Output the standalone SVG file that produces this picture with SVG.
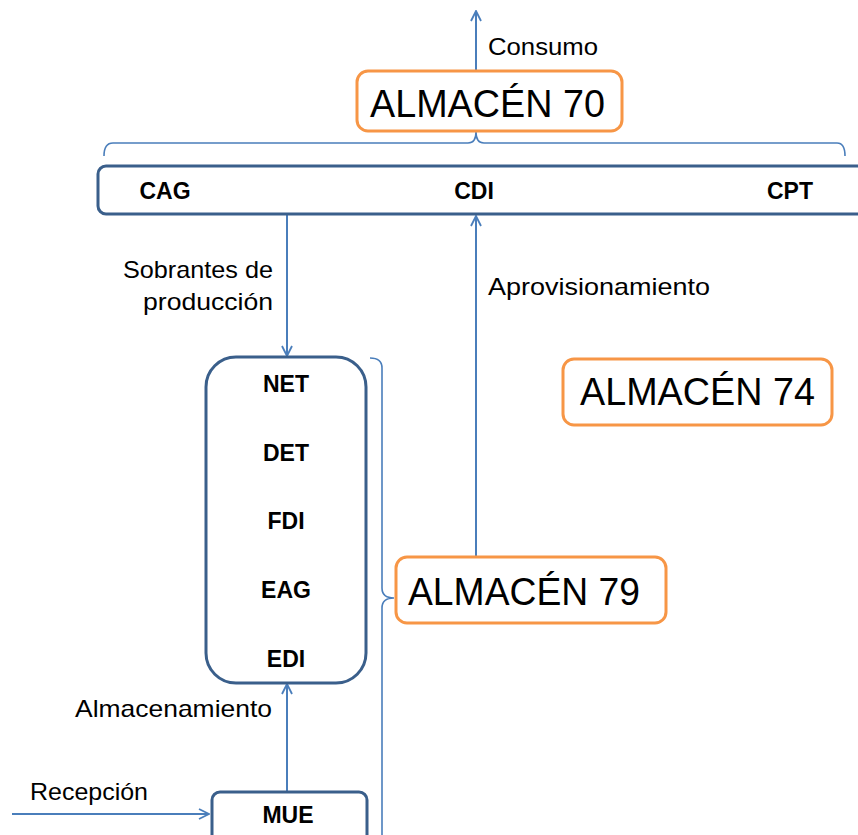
<svg xmlns="http://www.w3.org/2000/svg" width="858" height="835" viewBox="0 0 858 835">
<defs>
<marker id="arr" viewBox="0 0 12 12" refX="11" refY="6" markerWidth="12" markerHeight="12" markerUnits="userSpaceOnUse" orient="auto">
<path d="M1,1 L11,6 L1,11" fill="none" stroke="#4A7EBB" stroke-width="1.8"/>
</marker>
<style>
.node{fill:#fff;stroke:#3A5F8B;stroke-width:3}
.alm{fill:#fff;stroke:#F79646;stroke-width:3}
.con{fill:none;stroke:#4A7EBB;stroke-width:2}
.br{fill:none;stroke:#4A7EBB;stroke-width:1.6}
.big{font-family:"Liberation Sans",Arial,sans-serif;font-size:38px;fill:#000}
.lbl{font-family:"Liberation Sans",Arial,sans-serif;font-size:24px;fill:#000}
.b{font-family:"Liberation Sans",Arial,sans-serif;font-size:23px;font-weight:bold;fill:#000;text-anchor:middle}
</style>
</defs>
<g id="connectors">
<line class="con" x1="476" y1="131" x2="476" y2="11" marker-end="url(#arr)"/>
<line class="con" x1="287" y1="214" x2="287" y2="356" marker-end="url(#arr)"/>
<line class="con" x1="476" y1="557" x2="476" y2="216" marker-end="url(#arr)"/>
<line class="con" x1="287" y1="792" x2="287" y2="684" marker-end="url(#arr)"/>
<line class="con" x1="12" y1="814" x2="209" y2="814" marker-end="url(#arr)"/>
<path class="br" d="M104,156 Q104,143 113,143 L468,143 Q476,143 476,132 Q476,143 484,143 L837,143 Q845,143 845,156"/>
<path class="br" d="M370,358 Q382,358 382,368 L382,588 Q382,598 394,598 Q382,598 382,608 L382,840"/>
</g>
<g id="labels">
<text class="lbl" x="488" y="55" textLength="110" lengthAdjust="spacingAndGlyphs">Consumo</text>
<text class="lbl" x="123" y="278" textLength="150" lengthAdjust="spacingAndGlyphs">Sobrantes de</text>
<text class="lbl" x="143" y="310" textLength="130" lengthAdjust="spacingAndGlyphs">producción</text>
<text class="lbl" x="488" y="295" textLength="222" lengthAdjust="spacingAndGlyphs">Aprovisionamiento</text>
<text class="lbl" x="75" y="717" textLength="197" lengthAdjust="spacingAndGlyphs">Almacenamiento</text>
<text class="lbl" x="30" y="800" textLength="118" lengthAdjust="spacingAndGlyphs">Recepción</text>
</g>
<g id="almacen70">
<rect class="alm" x="357" y="71" width="265" height="60" rx="11"/>
<text class="big" x="370" y="117" textLength="235" lengthAdjust="spacingAndGlyphs">ALMACÉN 70</text>
</g>
<g id="centros">
<rect class="node" x="98" y="166" width="800" height="48" rx="8"/>
<text class="b" x="165" y="199">CAG</text>
<text class="b" x="474" y="199">CDI</text>
<text class="b" x="790" y="199">CPT</text>
</g>
<g id="almacen74">
<rect class="alm" x="563" y="359" width="269" height="66" rx="11"/>
<text class="big" x="580" y="405" textLength="235" lengthAdjust="spacingAndGlyphs">ALMACÉN 74</text>
</g>
<g id="estaciones">
<rect class="node" x="206" y="357" width="160" height="326" rx="30"/>
<text class="b" x="286" y="392">NET</text>
<text class="b" x="286" y="461">DET</text>
<text class="b" x="286" y="529">FDI</text>
<text class="b" x="286" y="598">EAG</text>
<text class="b" x="286" y="667">EDI</text>
</g>
<g id="almacen79">
<rect class="alm" x="396" y="557" width="270" height="66" rx="11"/>
<text class="big" x="408" y="605" textLength="232" lengthAdjust="spacingAndGlyphs">ALMACÉN 79</text>
</g>
<g id="mue">
<rect class="node" x="212" y="792" width="155" height="60" rx="8"/>
<text class="b" x="288" y="823">MUE</text>
</g>
</svg>
